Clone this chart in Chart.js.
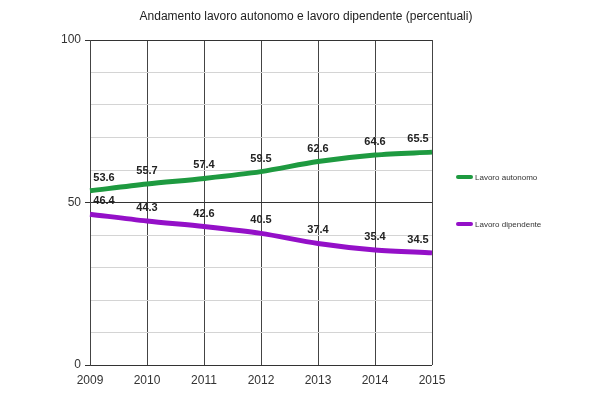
<!DOCTYPE html>
<html>
<head>
<meta charset="utf-8">
<script src="https://cdn.jsdelivr.net/npm/chart.js@4/dist/chart.umd.min.js"></script>
<style>
  body { margin: 0; background: #fff; }
  #wrap { width: 599px; height: 398px; }
</style>
</head>
<body>
<div id="wrap"><canvas id="chart" width="599" height="398"></canvas></div>
<script>
const titleText = 'Andamento lavoro autonomo e lavoro dipendente (percentuali)';
const years = ['2009', '2010', '2011', '2012', '2013', '2014', '2015'];
const autonomo = [53.6, 55.7, 57.4, 59.5, 62.6, 64.6, 65.5];
const dipendente = [46.4, 44.3, 42.6, 40.5, 37.4, 35.4, 34.5];
const yLabels = [0, 50, 100];

const FONT = '"Liberation Sans", Arial, sans-serif';

// value labels above each point, kept inside the plot area
const valueLabels = {
  id: 'valueLabels',
  afterDatasetsDraw(chart) {
    const ctx = chart.ctx;
    const area = chart.chartArea;
    ctx.save();
    ctx.font = 'bold 11px ' + FONT;
    ctx.fillStyle = '#222';
    ctx.textAlign = 'center';
    ctx.textBaseline = 'middle';
    chart.data.datasets.forEach((ds, i) => {
      chart.getDatasetMeta(i).data.forEach((pt, j) => {
        const x = Math.min(Math.max(pt.x, area.left + 14), area.right - 14);
        ctx.fillText(ds.data[j].toFixed(1), x, pt.y - 13);
      });
    });
    ctx.restore();
  }
};

// title and legend drawn by hand so the plot area stays put
const extras = {
  id: 'extras',
  afterDraw(chart) {
    const ctx = chart.ctx;
    ctx.save();
    ctx.font = '12px ' + FONT;
    ctx.fillStyle = '#222';
    ctx.textAlign = 'center';
    ctx.textBaseline = 'middle';
    ctx.fillText(titleText, 306, 17);

    const rows = [177, 224];
    chart.data.datasets.forEach((ds, i) => {
      const y = rows[i];
      ctx.strokeStyle = ds.borderColor;
      ctx.lineWidth = 4;
      ctx.lineCap = 'round';
      ctx.beginPath();
      ctx.moveTo(458, y);
      ctx.lineTo(471, y);
      ctx.stroke();
      ctx.font = '8px ' + FONT;
      ctx.fillStyle = '#333';
      ctx.textAlign = 'left';
      ctx.fillText(ds.label, 475, y + 0.5);
    });
    ctx.restore();
  }
};

new Chart(document.getElementById('chart'), {
  type: 'line',
  data: {
    labels: years,
    datasets: [{
      label: 'Lavoro autonomo',
      data: autonomo,
      borderColor: '#1e9a40',
      borderWidth: 5,
      pointRadius: 0,
      tension: 0.3,
      fill: false
    }, {
      label: 'Lavoro dipendente',
      data: dipendente,
      borderColor: '#9410c8',
      borderWidth: 5,
      pointRadius: 0,
      tension: 0.3,
      fill: false
    }]
  },
  options: {
    responsive: false,
    animation: false,
    layout: { padding: { top: 40, right: 167, bottom: 0, left: 0 } },
    plugins: {
      legend: { display: false },
      tooltip: { enabled: false }
    },
    scales: {
      x: {
        offset: false,
        grid: { color: '#444', drawTicks: false, offset: false },
        border: { display: false },
        ticks: { color: '#333', font: { family: FONT, size: 12 }, padding: 8, maxRotation: 0 },
        afterFit(scale) { scale.height = 33; }
      },
      y: {
        min: 0,
        max: 100,
        grid: {
          color: c => yLabels.includes(c.tick.value) ? '#333' : '#d4d4d4',
          tickColor: c => yLabels.includes(c.tick.value) ? '#333' : 'rgba(0,0,0,0)',
          tickLength: 5
        },
        border: { color: '#444' },
        ticks: {
          stepSize: 10,
          autoSkip: false,
          color: '#333',
          font: { family: FONT, size: 12 },
          padding: 4,
          callback: v => yLabels.includes(v) ? String(v) : ''
        },
        afterFit(scale) { scale.width = 90; }
      }
    }
  },
  plugins: [valueLabels, extras]
});
</script>
</body>
</html>
